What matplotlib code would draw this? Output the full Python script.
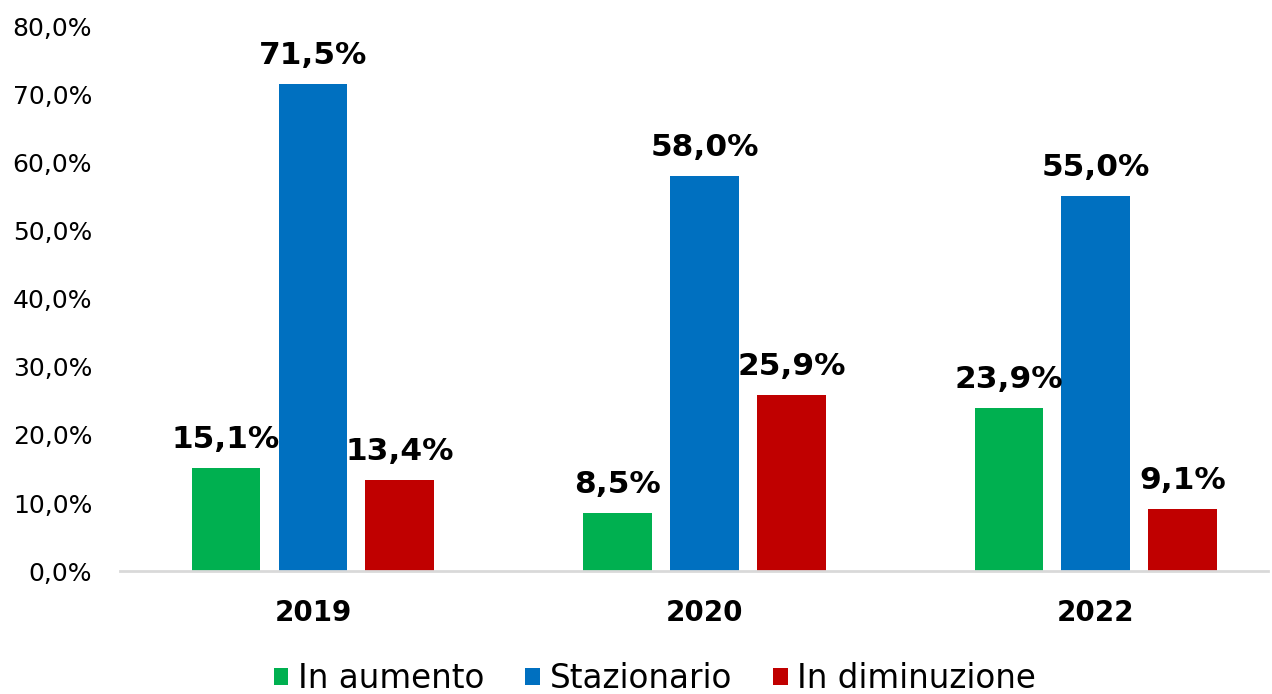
import matplotlib.pyplot as plt
import numpy as np

# Data
years = ['2019', '2020', '2022']
series = ['In aumento', 'Stazionario', 'In diminuzione']
aumento = [15.1, 8.5, 23.9]
stazionario = [71.5, 58.0, 55.0]
diminuzione = [13.4, 25.9, 9.1]
colors = ['#00B050', '#0070C0', '#C00000']

plt.rcParams['font.family'] = ['DejaVu Sans']

fig = plt.figure(figsize=(12.72, 6.94), dpi=100)
ax = fig.add_axes([0.0943, 0.177, 0.9027, 0.7855])

x = np.arange(len(years))
width = 0.176
offset = 0.222

for i, (vals, name) in enumerate(zip([aumento, stazionario, diminuzione], series)):
    pos = x + (i - 1) * offset
    bars = ax.bar(pos, vals, width, color=colors[i], label=name)
    for b, v in zip(bars, vals):
        lbl = f'{v:.1f}%'.replace('.', ',')
        ax.annotate(lbl, (b.get_x() + b.get_width() / 2, v), xytext=(0, 10),
                    textcoords='offset points', ha='center', va='bottom',
                    fontsize=22.5, fontweight='bold')

ax.set_ylim(0, 80)
ax.set_xlim(-0.493, 2.44)
ax.set_yticks(np.arange(0, 81, 10))
ax.set_yticklabels([f'{t:.1f}%'.replace('.', ',') for t in range(0, 81, 10)], fontsize=18)
ax.set_xticks(x)
ax.set_xticklabels(years, fontsize=20, fontweight='bold')
ax.tick_params(axis='both', length=0)
ax.tick_params(axis='x', pad=20)
ax.tick_params(axis='y', pad=20)

for s in ['top', 'right', 'left']:
    ax.spines[s].set_visible(False)
ax.spines['bottom'].set_color('#D9D9D9')
ax.spines['bottom'].set_linewidth(2)

ax.legend(loc='center', bbox_to_anchor=(0.466, -0.197), ncol=3, frameon=False,
          fontsize=23.5, handlelength=0.45, handleheight=0.45, handletextpad=0.3,
          columnspacing=1.25, borderaxespad=0, borderpad=0)

fig.savefig('out.png', dpi=100)
